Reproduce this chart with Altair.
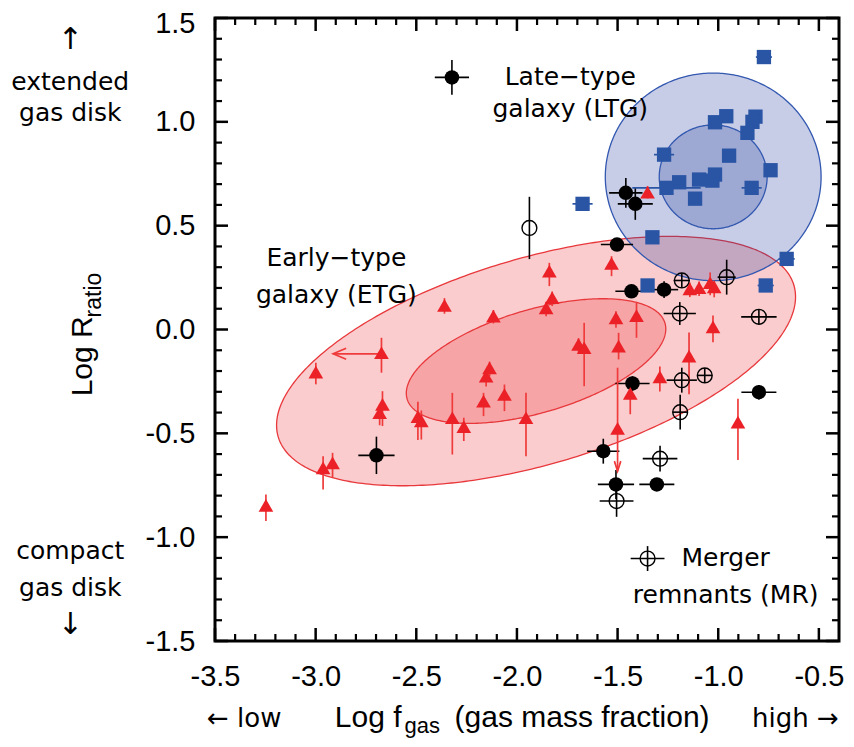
import altair as alt
import numpy as np
import pandas as pd

# ---------------- data ----------------
# Early-type galaxies (red triangles): x, y, error up, error down
etg_x = [-3.247, -2.999, -2.673, -2.360, -2.117, -2.668, -2.682, -2.963, -2.916, -2.492,
         -2.475, -2.136, -2.153, -2.166, -2.062, -2.321, -2.264, -1.955, -1.839, -1.825,
         -1.855, -1.530, -1.508, -1.406, -1.495, -1.694, -1.666, -1.141, -1.095, -1.040,
         -1.020, -1.026, -1.145, -1.290, -1.437, -1.500, -0.902, -1.351]
etg_y = [-0.847, -0.205, -0.112, 0.116, 0.064, -0.361, -0.401, -0.666, -0.642, -0.420,
         -0.440, -0.185, -0.225, -0.345, -0.313, -0.425, -0.468, -0.425, 0.281, 0.153,
         0.104, 0.318, 0.056, 0.067, -0.080, -0.072, -0.088, 0.196, 0.201, 0.225,
         0.205, 0.013, -0.128, -0.228, -0.308, -0.476, -0.446, 0.661]
etg_eup = [0.053, 0.045, 0.072, 0.035, 0.030, 0.064, 0.040, 0.056, 0.048, 0.072,
           0.050, 0.030, 0.030, 0.040, 0.048, 0.120, 0.043, 0.120, 0.040, 0.030,
           0.030, 0.035, 0.032, 0.061, 0.064, 0.030, 0.120, 0.030, 0.030, 0.050,
           0.030, 0.055, 0.113, 0.050, 0.035, 0.292, 0.113, 0.030]
etg_edn = [0.075, 0.059, 0.096, 0.040, 0.035, 0.104, 0.060, 0.104, 0.072, 0.112,
           0.090, 0.040, 0.050, 0.072, 0.080, 0.177, 0.069, 0.185, 0.072, 0.040,
           0.040, 0.061, 0.048, 0.107, 0.064, 0.040, 0.185, 0.040, 0.040, 0.060,
           0.050, 0.074, 0.184, 0.070, 0.100, 0.000, 0.183, 0.030]
# limits (arrows)
xlim_x = [-2.673]
xlim_y = [-0.117]
xlim_tip = [-2.913]
ylim_x = [-1.500]
ylim_y = [-0.476]
ylim_tip = [-0.682]

# Late-type galaxies (blue squares)
ltg_x = [-0.773, -0.960, -1.016, -0.815, -0.830, -0.855, -1.269, -0.946, -0.740, -1.016,
         -1.029, -1.095, -1.194, -1.257, -0.834, -1.115, -1.674, -1.327, -1.351, -0.764, -0.660]
ltg_y = [1.312, 1.027, 0.998, 1.025, 1.000, 0.947, 0.842, 0.837, 0.767, 0.746,
         0.717, 0.722, 0.709, 0.682, 0.682, 0.630, 0.605, 0.444, 0.212, 0.212, 0.340]
ltg_xerr = [0.04, 0, 0, 0, 0, 0, 0.05, 0, 0, 0,
            0, 0, 0, 0.17, 0.05, 0, 0.05, 0, 0, 0.04, 0.04]

# Merger remnants (open circles)
mr_x = [-1.938, -1.181, -0.958, -1.191, -0.798, -1.181, -1.067, -1.189, -1.289, -1.505]
mr_y = [0.489, 0.236, 0.252, 0.077, 0.061, -0.244, -0.221, -0.398, -0.622, -0.826]
mr_xerr = [0.0, 0.04, 0.045, 0.08, 0.088, 0.075, 0.037, 0.037, 0.086, 0.084]
mr_yerr = [0.15, 0.035, 0.084, 0.055, 0.035, 0.06, 0.035, 0.084, 0.062, 0.076]

# other galaxies (black filled circles)
oth_x = [-2.323, -1.459, -1.412, -1.503, -1.431, -1.269, -1.426, -0.798, -1.571, -1.508, -1.305, -2.698]
oth_y = [1.214, 0.658, 0.605, 0.409, 0.184, 0.192, -0.260, -0.302, -0.586, -0.746, -0.746, -0.606]
oth_xerr = [0.085, 0.083, 0.087, 0.08, 0.08, 0.07, 0.085, 0.087, 0.08, 0.09, 0.087, 0.09]
oth_yerr = [0.084, 0.072, 0.077, 0.0, 0.0, 0.04, 0.035, 0.035, 0.06, 0.07, 0.0, 0.09]

# legend sample for merger remnants
leg_x = [-1.351]
leg_y = [-1.103]
leg_xerr = [0.084]
leg_yerr = [0.06]

# confidence ellipses: centre, inner semi-axes, tilt (deg); outer one is twice the inner
etg_ell = (-1.905, -0.152, 0.666, 0.249, 15.75)
ltg_ell = (-1.025, 0.735, 0.268, 0.250, 0.0)

# tick values
x_major = [-3.5, -3.0, -2.5, -2.0, -1.5, -1.0, -0.5]
x_minor = [round(-3.5 + 0.1 * i, 1) for i in range(31) if i % 5 != 0]
y_major = [-1.5, -1.0, -0.5, 0.0, 0.5, 1.0, 1.5]
y_minor = [round(-1.5 + 0.1 * i, 1) for i in range(31) if i % 5 != 0]

# annotation texts
ann_text = ["Late\u2212type", "galaxy (LTG)", "Early\u2212type", "galaxy (ETG)",
            "Merger", "remnants (MR)", "extended", "gas disk", "compact", "gas disk"]
ann_x = [-1.735, -1.735, -2.897, -2.897, -0.963, -0.963, -4.219, -4.219, -4.219, -4.219]
ann_y = [1.179, 1.025, 0.308, 0.130, -1.139, -1.319, 1.155, 1.006, -1.107, -1.283]

# ---------------- styling ----------------
RED = "#eb2127"
RED_BAR = "#ef3b3b"
BLUE = "#2a55a5"
ANN_FONT = "DejaVu Sans"
LAB_FONT = "Liberation Sans"

XSC = alt.Scale(domain=[-3.5, -0.4], nice=False, zero=False)
YSC = alt.Scale(domain=[-1.5, 1.5], nice=False, zero=False)
LBL = "replace(format(datum.value, '.1f'), '\u2212', '-')"
XAX = alt.Axis(values=x_major, labelExpr=LBL, title="", grid=False, domain=False, ticks=False,
               labelPadding=21, labelFlush=False, labelOverlap=False)
YAX = alt.Axis(values=y_major, labelExpr=LBL, title="", grid=False, domain=False, ticks=False,
               labelPadding=20, labelFlush=False, labelOverlap=False,
               labelOffset={"condition": {"test": "datum.value > 1.4", "value": 5}, "value": 0})


def X(f):
    return alt.X(f, type="quantitative", scale=XSC, axis=XAX)


def Y(f):
    return alt.Y(f, type="quantitative", scale=YSC, axis=YAX)


def band(par, k):
    cx, cy, a, b, ang = par
    A, B = a * k, b * k
    t = np.radians(ang)
    sxx = (A * np.cos(t)) ** 2 + (B * np.sin(t)) ** 2
    sxy = (A * A - B * B) * np.sin(t) * np.cos(t)
    xr = np.sqrt(sxx)
    u = -np.cos(np.linspace(0, np.pi, 181))
    dx = xr * u
    mid = sxy / sxx * dx
    half = A * B / xr * np.sqrt(np.clip(1 - u ** 2, 0, None))
    return pd.DataFrame({"ex": cx + dx, "elo": cy + mid - half, "ehi": cy + mid + half})


def ellipse(par, k, fill, op, stroke):
    return alt.Chart(band(par, k)).mark_area(
        fill=fill, fillOpacity=op, stroke=stroke, strokeWidth=1.3
    ).encode(x=X("ex"), y=Y("elo"), y2="ehi")


def xbars(df, color, w):
    return alt.Chart(df).transform_filter("datum.xerr > 0").transform_calculate(
        lo="datum.x - datum.xerr", hi="datum.x + datum.xerr"
    ).mark_rule(color=color, strokeWidth=w).encode(x=X("lo"), x2="hi", y=Y("y"))


def ybars(df, color, w):
    return alt.Chart(df).transform_filter("datum.eup + datum.edn > 0").transform_calculate(
        lo="datum.y - datum.edn", hi="datum.y + datum.eup"
    ).mark_rule(color=color, strokeWidth=w).encode(x=X("x"), y=Y("lo"), y2="hi")


etg = pd.DataFrame({"x": etg_x, "y": etg_y, "eup": etg_eup, "edn": etg_edn})
ltg = pd.DataFrame({"x": ltg_x, "y": ltg_y, "xerr": ltg_xerr})
mr = pd.DataFrame({"x": mr_x, "y": mr_y, "xerr": mr_xerr, "eup": mr_yerr, "edn": mr_yerr})
oth = pd.DataFrame({"x": oth_x, "y": oth_y, "xerr": oth_xerr, "eup": oth_yerr, "edn": oth_yerr})
leg = pd.DataFrame({"x": leg_x, "y": leg_y, "xerr": leg_xerr, "eup": leg_yerr, "edn": leg_yerr})
xl = pd.DataFrame({"x": xlim_x, "y": xlim_y, "tip": xlim_tip})
yl = pd.DataFrame({"x": ylim_x, "y": ylim_y, "tip": ylim_tip})

layers = [
    ellipse(etg_ell, 2, RED, 0.23, "#e8383c"),
    ellipse(etg_ell, 1, RED, 0.23, "#e8383c"),
    ellipse(ltg_ell, 2, "#283ca0", 0.26, "#3358b0"),
    ellipse(ltg_ell, 1, "#283ca0", 0.26, "#3358b0"),
]

# error bars
layers += [
    xbars(oth, "black", 1.6), ybars(oth, "black", 1.6),
    xbars(mr, "black", 1.6), ybars(mr, "black", 1.6),
    xbars(leg, "black", 1.6), ybars(leg, "black", 1.6),
    xbars(ltg, BLUE, 1.7),
    ybars(etg, RED_BAR, 1.7),
]

# limit arrows
layers += [
    alt.Chart(xl).mark_rule(color=RED_BAR, strokeWidth=1.7).encode(x=X("x"), x2="tip", y=Y("y")),
    alt.Chart(xl).mark_point(shape="M1,-0.42L0,0L1,0.42", filled=False, size=676, color=RED_BAR,
                             strokeWidth=1.7, opacity=1).encode(x=X("tip"), y=Y("y")),
    alt.Chart(yl).mark_rule(color=RED_BAR, strokeWidth=1.7).encode(x=X("x"), y=Y("y"), y2="tip"),
    alt.Chart(yl).mark_point(shape="M-0.32,-1L0,0L0.32,-1", filled=False, size=400, color=RED_BAR,
                             strokeWidth=1.7, opacity=1).encode(x=X("x"), y=Y("tip")),
]

# symbols
layers += [
    alt.Chart(oth).mark_point(shape="circle", filled=True, size=210, color="black", opacity=1)
    .encode(x=X("x"), y=Y("y")),
    alt.Chart(mr).mark_point(shape="circle", filled=False, size=220, color="black", strokeWidth=1.4,
                             opacity=1).encode(x=X("x"), y=Y("y")),
    alt.Chart(leg).mark_point(shape="circle", filled=False, size=220, color="black", strokeWidth=1.4,
                              opacity=1).encode(x=X("x"), y=Y("y")),
    alt.Chart(ltg).mark_point(shape="square", filled=True, size=205, color=BLUE, opacity=1)
    .encode(x=X("x"), y=Y("y")),
    alt.Chart(etg).mark_point(shape="triangle-up", filled=True, size=215, color=RED, opacity=1)
    .encode(x=X("x"), y=Y("y")),
]


def texts(xs, ys, labels, font, size, align="center", baseline="alphabetic", angle=0):
    df = pd.DataFrame({"x": xs, "y": ys, "t": labels})
    mk = dict(font=font, fontSize=size, align=align, baseline=baseline, color="black")
    if angle:
        mk["angle"] = angle
    return alt.Chart(df).mark_text(**mk).encode(x=X("x"), y=Y("y"), text="t:N")


layers += [
    texts(ann_x, ann_y, ann_text, ANN_FONT, 25),
    texts([-4.219, -4.219], [1.396, -1.424], ["\u2191", "\u2193"], ANN_FONT, 30, baseline="middle"),
    texts([-3.540], [-1.915], ["\u2190 low"], ANN_FONT, 26, align="left"),
    texts([-0.401], [-1.915], ["high \u2192"], ANN_FONT, 26, align="right"),
    texts([-2.905, -2.310], [-1.915, -1.915], ["Log f", "(gas mass fraction)"], LAB_FONT, 30, align="left"),
    texts([-2.558], [-1.944], ["gas"], LAB_FONT, 22, align="left"),
    texts([-4.111], [-0.322], ["Log R"], LAB_FONT, 30, align="left", angle=270),
    texts([-4.065], [0.058], ["ratio"], LAB_FONT, 23, align="left", angle=270),
]


# inward ticks on all four sides
def hticks(vals, edge, off, w):
    return alt.Chart(pd.DataFrame({"t": vals})).transform_calculate(edge=str(edge)).mark_rule(
        color="black", strokeWidth=w, y2Offset=off
    ).encode(x=X("t"), y=Y("edge"), y2="edge")


def vticks(vals, edge, off, w):
    return alt.Chart(pd.DataFrame({"t": vals})).transform_calculate(edge=str(edge)).mark_rule(
        color="black", strokeWidth=w, x2Offset=off
    ).encode(y=Y("t"), x=X("edge"), x2="edge")


layers += [
    hticks(x_major, -1.5, -13, 2.5), hticks(x_minor, -1.5, -7, 2.2),
    hticks(x_major, 1.5, 13, 2.5), hticks(x_minor, 1.5, 7, 2.2),
    vticks(y_major, -3.5, 13, 2.5), vticks(y_minor, -3.5, 7, 2.2),
    vticks(y_major, -0.4, -13, 2.5), vticks(y_minor, -0.4, -7, 2.2),
]

chart = alt.layer(*layers).properties(
    width=624, height=623,
    padding={"left": 207, "top": 10, "right": 7, "bottom": 98},
    autosize=alt.AutoSizeParams(type="none"),
).configure_view(stroke="black", strokeWidth=3).configure_axis(
    labelFont=LAB_FONT, labelFontSize=29, labelColor="black"
)

chart.save("out.html", embed_options={"renderer": "svg", "actions": False})
